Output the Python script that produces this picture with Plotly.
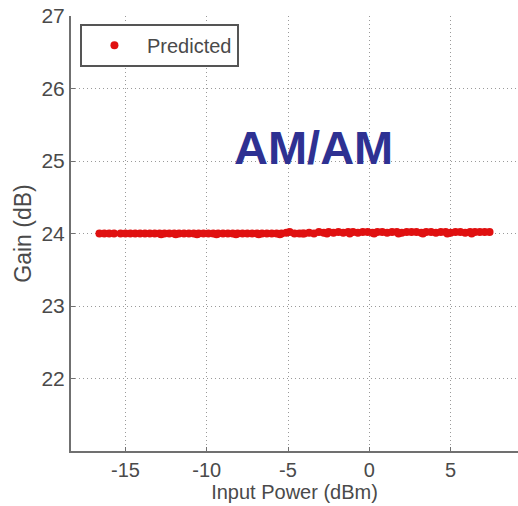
import plotly.graph_objects as go

# Input power (dBm)
input_power = [-16.6, -16.3, -16.0, -15.7, -15.3, -15.0, -14.7, -14.4, -14.1, -13.8,
               -13.5, -13.2, -12.9, -12.6, -12.3, -12.0, -11.7, -11.4, -11.1, -10.8,
               -10.5, -10.2, -9.9, -9.6, -9.3, -9.0, -8.7, -8.4, -8.1, -7.8,
               -7.5, -7.2, -6.9, -6.6, -6.3, -6.0, -5.7, -5.4, -5.1, -4.9,
               -4.6, -4.3, -4.0, -3.7, -3.4, -3.1, -2.8, -2.5, -2.2, -1.9,
               -1.6, -1.3, -1.0, -0.7, -0.4, -0.1, 0.2, 0.5, 0.8, 1.1,
               1.4, 1.7, 2.0, 2.3, 2.6, 2.9, 3.2, 3.5, 3.8, 4.1,
               4.4, 4.7, 5.0, 5.3, 5.6, 5.9, 6.2, 6.5, 6.8, 7.1, 7.4,
               -12.8, -11.9, -10.6, -9.4, -8.2, -6.8, -5.5, -4.1, -2.6, -1.2,
               0.3, 1.8, 3.3, 4.8, 6.3]
# Gain (dB)
gain = [24.00, 24.00, 24.00, 24.00, 24.00, 24.00, 24.00, 24.00, 24.00, 24.00,
        24.00, 24.00, 24.00, 24.00, 24.00, 24.00, 24.00, 24.00, 24.00, 24.00,
        24.00, 24.00, 24.00, 24.00, 24.00, 24.00, 24.00, 24.00, 24.00, 24.00,
        24.00, 24.00, 24.00, 24.00, 24.00, 24.00, 24.00, 24.00, 24.01, 24.02,
        24.00, 24.00, 24.00, 24.01, 24.00, 24.02, 24.01, 24.02, 24.01, 24.02,
        24.01, 24.02, 24.02, 24.01, 24.02, 24.02, 24.01, 24.02, 24.02, 24.01,
        24.02, 24.02, 24.01, 24.02, 24.02, 24.02, 24.01, 24.02, 24.02, 24.01,
        24.02, 24.02, 24.01, 24.02, 24.02, 24.01, 24.02, 24.02, 24.02, 24.02, 24.02,
        23.99, 23.99, 23.99, 23.99, 23.99, 23.99, 23.99, 24.00, 24.00, 24.00,
        24.00, 24.00, 24.00, 24.00, 24.00]

x_ticks = [-15, -10, -5, 0, 5]
x_tick_labels = ["-15", "-10", "-5", "0", "5"]
y_ticks = [22, 23, 24, 25, 26, 27]
y_tick_labels = ["22", "23", "24", "25", "26", "27"]

REG = "Liberation Sans, Arial, sans-serif"
TXT = "#4a4a4a"

fig = go.Figure()
fig.add_trace(go.Scatter(
    x=input_power, y=gain, mode="markers", name="Predicted",
    marker=dict(color="#E01010", size=8, line=dict(width=0)),
))

fig.update_layout(
    width=518, height=506,
    margin=dict(l=71, r=0, t=16, b=55),
    paper_bgcolor="white", plot_bgcolor="white",
    font=dict(family=REG, size=20, color=TXT),
    showlegend=True,
    legend=dict(
        x=0.02, y=0.982, xanchor="left", yanchor="top",
        bgcolor="white", bordercolor="#555555", borderwidth=2,
        font=dict(family=REG, size=20, color=TXT),
        itemwidth=55, tracegroupgap=0,
    ),
)
fig.update_xaxes(
    range=[-18.35, 9.15], tickvals=x_ticks, ticktext=x_tick_labels,
    showgrid=True, gridcolor="#9a9a9a", griddash="1px,3px", gridwidth=1,
    showline=True, linecolor="#707070", linewidth=2,
    ticks="inside", ticklen=4, tickcolor="#707070",
    tickfont=dict(family=REG, size=20, color=TXT),
    zeroline=False,
    title=dict(text="Input Power (dBm)", standoff=4,
               font=dict(family=REG, size=20, color=TXT)),
)
fig.update_yaxes(
    range=[21, 27], tickvals=y_ticks, ticktext=y_tick_labels,
    showgrid=True, gridcolor="#9a9a9a", griddash="1px,3px", gridwidth=1,
    showline=True, linecolor="#707070", linewidth=2,
    ticks="inside", ticklen=4, tickcolor="#707070",
    tickfont=dict(family=REG, size=21, color=TXT),
    zeroline=False,
    title=dict(text="Gain (dB)", standoff=3,
               font=dict(family=REG, size=23, color=TXT)),
)
fig.add_annotation(
    text="<b>AM/AM</b>", xref="paper", yref="paper",
    x=(313 - 71) / 447, y=1 - (148 - 16) / 435,
    xanchor="center", yanchor="middle", showarrow=False,
    font=dict(family=REG, size=47, color="#2E3192"),
)
fig.write_html("out.html")
